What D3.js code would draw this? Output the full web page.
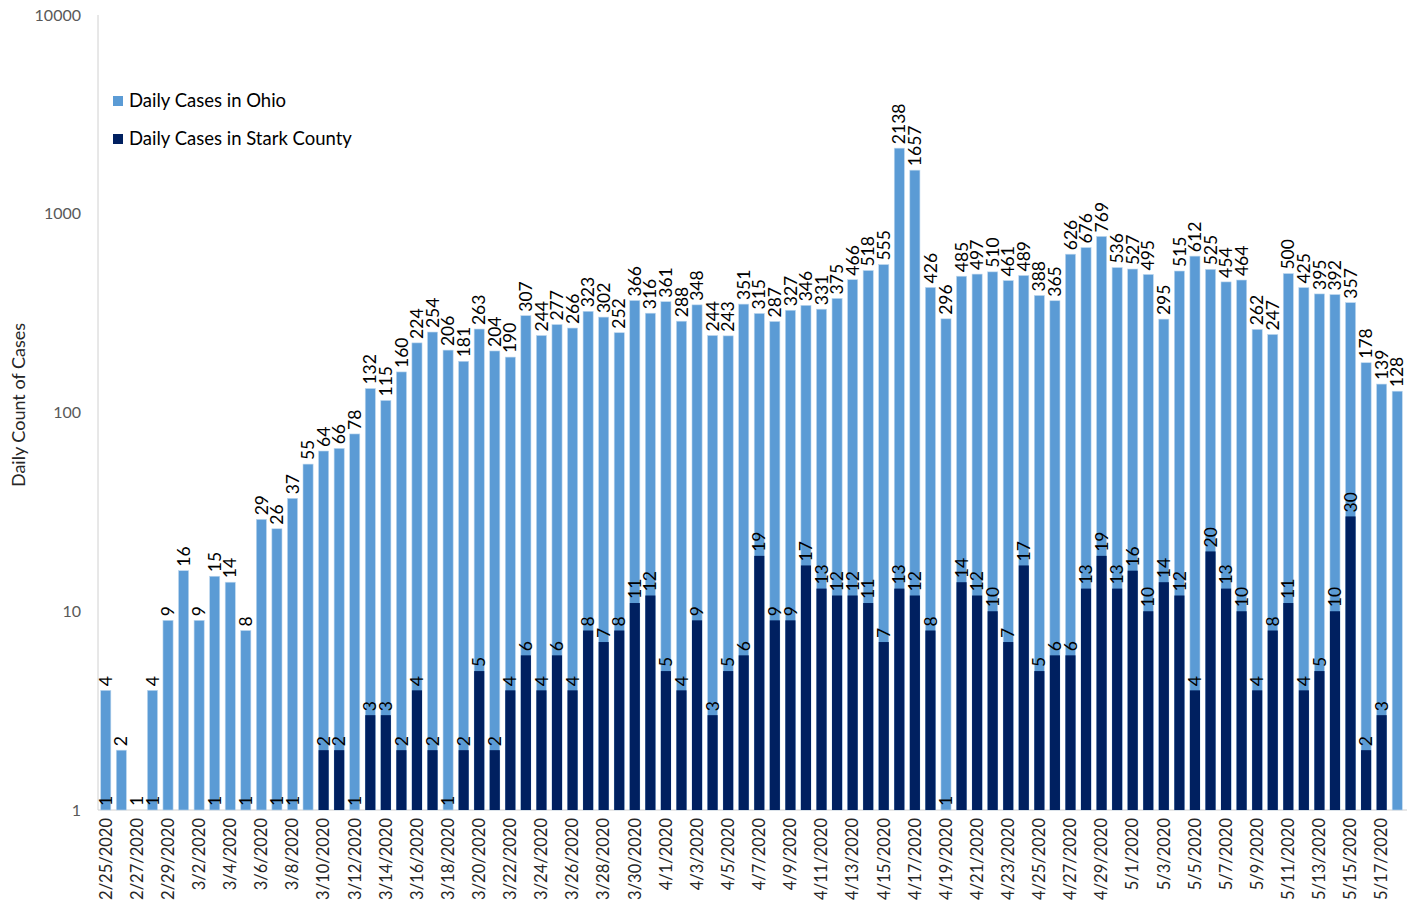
<!DOCTYPE html>
<html>
<head>
<meta charset="utf-8">
<script src="https://cdn.jsdelivr.net/npm/d3@7"></script>
<style>
  body { margin: 0; background: #fff; }
  text { font-family: Lato, "Open Sans", sans-serif; }
</style>
</head>
<body>
<script>
// dates shown on the chart (one bar per day)
const dates = [
  "2/25/2020","2/26/2020","2/27/2020","2/28/2020","2/29/2020",
  "3/1/2020","3/2/2020","3/3/2020","3/4/2020","3/5/2020","3/6/2020","3/7/2020","3/8/2020","3/9/2020","3/10/2020",
  "3/11/2020","3/12/2020","3/13/2020","3/14/2020","3/15/2020","3/16/2020","3/17/2020","3/18/2020","3/19/2020","3/20/2020",
  "3/21/2020","3/22/2020","3/23/2020","3/24/2020","3/25/2020","3/26/2020","3/27/2020","3/28/2020","3/29/2020","3/30/2020","3/31/2020",
  "4/1/2020","4/2/2020","4/3/2020","4/4/2020","4/5/2020","4/6/2020","4/7/2020","4/8/2020","4/9/2020","4/10/2020",
  "4/11/2020","4/12/2020","4/13/2020","4/14/2020","4/15/2020","4/16/2020","4/17/2020","4/18/2020","4/19/2020","4/20/2020",
  "4/21/2020","4/22/2020","4/23/2020","4/24/2020","4/25/2020","4/26/2020","4/27/2020","4/28/2020","4/29/2020","4/30/2020",
  "5/1/2020","5/2/2020","5/3/2020","5/4/2020","5/5/2020","5/6/2020","5/7/2020","5/8/2020","5/9/2020","5/10/2020",
  "5/11/2020","5/12/2020","5/13/2020","5/14/2020","5/15/2020","5/16/2020","5/17/2020","5/18/2020"
]

const ohio = [
  4, 2, 1, 4, 9,
  16, 9, 15, 14, 8, 29, 26, 37, 55, 64,
  66, 78, 132, 115, 160, 224, 254, 206, 181, 263,
  204, 190, 307, 244, 277, 266, 323, 302, 252, 366, 316,
  361, 288, 348, 244, 243, 351, 315, 287, 327, 346,
  331, 375, 466, 518, 555, 2138, 1657, 426, 296, 485,
  497, 510, 461, 489, 388, 365, 626, 676, 769, 536,
  527, 495, 295, 515, 612, 525, 454, 464, 262, 247,
  500, 425, 395, 392, 357, 178, 139, 128
]

const stark = [
  1, null, null, 1, null,
  null, null, 1, null, 1, null, 1, 1, null, 2,
  2, 1, 3, 3, 2, 4, 2, 1, 2, 5,
  2, 4, 6, 4, 6, 4, 8, 7, 8, 11, 12,
  5, 4, 9, 3, 5, 6, 19, 9, 9, 17,
  13, 12, 12, 11, 7, 13, 12, 8, 1, 14,
  12, 10, 7, 17, 5, 6, 6, 13, 19, 13,
  16, 10, 14, 12, 4, 20, 13, 10, 4, 8,
  11, 4, 5, 10, 30, 2, 3, null
]

const yTicks = [1, 10, 100, 1000, 10000]
const xLabels = dates.filter((d, i) => i % 2 === 0)

const seriesNames = ["Daily Cases in Ohio", "Daily Cases in Stark County"]
const colors = ["#5B9BD5", "#002060"]

const svg = d3.select("body")
    .append("svg")
    .attr("width", 1411)
    .attr("height", 905)

const x = d3.scaleBand()
    .domain(dates)
    .range([98, 1405])
    .paddingInner(0.35)
    .paddingOuter(0.175)

const y = d3.scaleLog()
    .domain([1, 10000])
    .range([810, 15])

// axes lines
svg.append("line")
    .attr("x1", 98).attr("x2", 98)
    .attr("y1", 15).attr("y2", 810)
    .attr("stroke", "#D0D0D0")
    .attr("stroke-width", 1)

svg.append("line")
    .attr("x1", 98).attr("x2", 1407)
    .attr("y1", 810).attr("y2", 810)
    .attr("stroke", "#D0D0D0")
    .attr("stroke-width", 1)

// y ticks
const yAxis = svg.append("g")
    .attr("transform", "translate(98,0)")
    .call(d3.axisLeft(y).tickValues(yTicks).tickFormat(d3.format("d")).tickSize(0).tickPadding(17))
yAxis.select(".domain").remove()
yAxis.selectAll("text")
    .attr("fill", "#595959")
    .style("font-size", "16px")
    .style("font-family", "Lato, sans-serif")

svg.append("text")
    .attr("transform", "translate(19,405) rotate(-90)")
    .attr("text-anchor", "middle")
    .attr("dy", "0.35em")
    .attr("fill", "#262626")
    .style("font-size", "18px")
    .text("Daily Count of Cases")

// x labels
svg.selectAll(".xlab")
    .data(xLabels)
    .enter()
    .append("text")
    .attr("class", "xlab")
    .attr("transform", d => "translate(" + (x(d) + x.bandwidth() / 2) + ",818) rotate(-90)")
    .attr("text-anchor", "end")
    .attr("dy", "0.35em")
    .attr("fill", "#262626")
    .style("font-size", "16.5px")
    .text(d => d)

// Ohio bars
const ohioData = dates.map((d, i) => ({ date: d, v: ohio[i] }))
const starkData = dates.map((d, i) => ({ date: d, v: stark[i] })).filter(d => d.v != null)

svg.selectAll(".ohio")
    .data(ohioData)
    .enter()
    .append("rect")
    .attr("class", "ohio")
    .attr("x", d => x(d.date))
    .attr("y", d => y(d.v))
    .attr("width", x.bandwidth())
    .attr("height", d => y(1) - y(d.v))
    .attr("fill", colors[0])
    .attr("stroke", "#BDD7EE")
    .attr("stroke-width", 0.6)

svg.selectAll(".stark")
    .data(starkData)
    .enter()
    .append("rect")
    .attr("class", "stark")
    .attr("x", d => x(d.date))
    .attr("y", d => y(d.v))
    .attr("width", x.bandwidth())
    .attr("height", d => y(1) - y(d.v))
    .attr("fill", colors[1])

// value labels
function addLabels(data, cls) {
  svg.selectAll("." + cls)
      .data(data)
      .enter()
      .append("text")
      .attr("class", cls)
      .attr("transform", d => "translate(" + (x(d.date) + x.bandwidth() / 2) + "," + (y(d.v) - 4) + ") rotate(-90)")
      .attr("text-anchor", "start")
      .attr("dy", "0.35em")
      .attr("fill", "#000")
      .style("font-size", "17.5px")
      .text(d => d.v)
}
addLabels(ohioData, "lab-ohio")
addLabels(starkData, "lab-stark")

// legend
const legend = svg.selectAll(".legend")
    .data(seriesNames)
    .enter()
    .append("g")
    .attr("class", "legend")
    .attr("transform", (d, i) => "translate(113," + (96 + i * 38) + ")")

legend.append("rect")
    .attr("width", 10)
    .attr("height", 10)
    .attr("fill", (d, i) => colors[i])

legend.append("text")
    .attr("x", 16)
    .attr("y", 5)
    .attr("dy", "0.35em")
    .attr("fill", "#000")
    .style("font-size", "18.5px")
    .text(d => d)
</script>
</body>
</html>
